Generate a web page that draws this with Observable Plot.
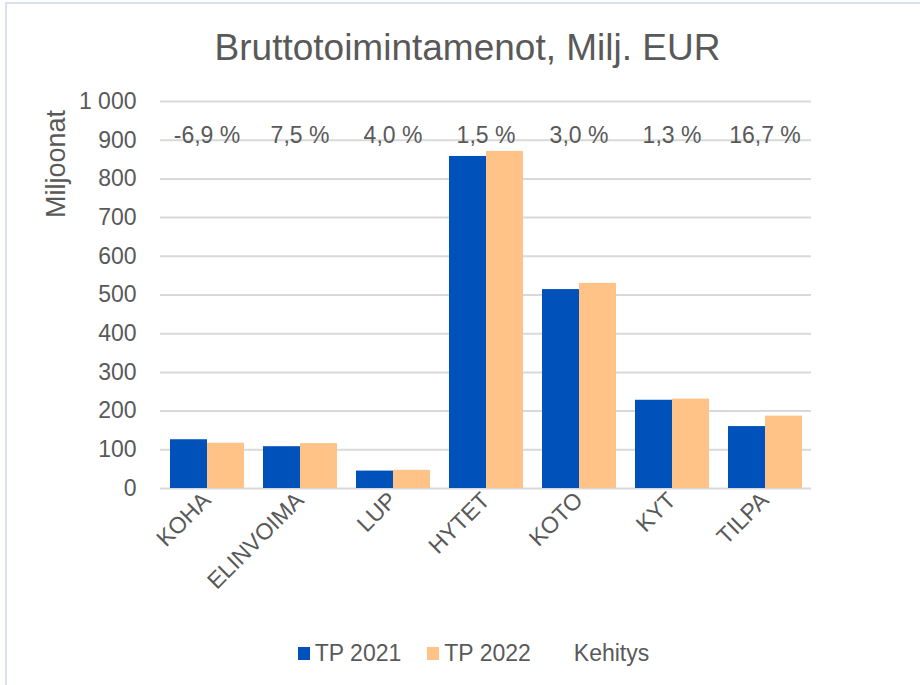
<!DOCTYPE html>
<html>
<head>
<meta charset="utf-8">
<script src="https://cdn.jsdelivr.net/npm/d3@7"></script>
<script src="https://cdn.jsdelivr.net/npm/@observablehq/plot@0.6"></script>
<style>
  html, body { margin: 0; padding: 0; background: #fff; }
  body { width: 920px; height: 685px; position: relative; overflow: hidden;
         font-family: "Liberation Sans", Arial, sans-serif; color: #595959; }
  #frame { position: absolute; left: 5px; top: 2px; width: 1000px; height: 800px;
           border: 2px solid #d9e1ea; box-sizing: border-box; }
  #title { position: absolute; left: 0; width: 935px; top: 27px; text-align: center;
           font-size: 37px; line-height: 41px; white-space: nowrap; }
  #ylabel { position: absolute; left: 56px; top: 164px; font-size: 27px; line-height: 28px;
            white-space: nowrap; transform: translate(-50%, -50%) rotate(-90deg); }
  #chart { position: absolute; left: 0; top: 85px; }
  #legend { position: absolute; left: 0; width: 947px; top: 640px; display: flex;
            justify-content: center; font-size: 23px; line-height: 26px; }
  .item { display: flex; align-items: center; margin: 0 13px; }
  .sw { width: 12px; height: 13px; margin-right: 5px; }
</style>
</head>
<body>
<div id="frame"></div>
<div id="title">Bruttotoimintamenot, Milj. EUR</div>
<div id="ylabel">Miljoonat</div>
<div id="chart"></div>
<div id="legend"></div>
<script>
const categories = ["KOHA", "ELINVOIMA", "LUP", "HYTET", "KOTO", "KYT", "TILPA"];
const series = ["TP 2021", "TP 2022"];
const tp2021 = [126, 108, 45, 858, 514, 228, 160];
const tp2022 = [117, 116, 47, 871, 530, 231, 187];
const kehitys = ["-6,9 %", "7,5 %", "4,0 %", "1,5 %", "3,0 %", "1,3 %", "16,7 %"];
const kehitysLabel = "Kehitys";
const yTicks = [0, 100, 200, 300, 400, 500, 600, 700, 800, 900, 1000];
const colors = ["#0051ba", "#ffc388"];

const rows = categories.flatMap((c, i) => [
  {category: c, series: series[0], value: tp2021[i]},
  {category: c, series: series[1], value: tp2022[i]}
]);
const labels = categories.map((c, i) => ({category: c, text: kehitys[i]}));

const fmt = d3.formatLocale({thousands: " ", grouping: [3], decimal: ",", currency: ["", " €"]}).format(",");

const chart = Plot.plot({
  width: 920,
  height: 530,
  marginLeft: 159,
  marginRight: 108,
  marginTop: 16,
  marginBottom: 127,
  style: {fontFamily: "'Liberation Sans', Arial, sans-serif", fontSize: "23px", color: "#595959", background: "transparent"},
  fx: {domain: categories, padding: 0, label: null, axis: "bottom", tickRotate: -45, tickSize: 0, tickPadding: 8},
  x: {domain: series, axis: null, paddingInner: 0, paddingOuter: 0.25},
  y: {domain: [0, 1000], ticks: yTicks, tickFormat: fmt, tickSize: 0, tickPadding: 24, label: null},
  color: {domain: series, range: colors},
  marks: [
    Plot.ruleY(yTicks, {stroke: "#d9d9d9", strokeWidth: 2}),
    Plot.barY(rows, {fx: "category", x: "series", y: "value", fill: "series"}),
    Plot.text(labels, {fx: "category", text: "text", frameAnchor: "top", lineAnchor: "top", dy: 25, fill: "#595959"})
  ]
});
document.getElementById("chart").appendChild(chart);

const legend = document.getElementById("legend");
const items = [[series[0], colors[0]], [series[1], colors[1]], [kehitysLabel, "transparent"]];
for (const [name, col] of items) {
  const it = document.createElement("div");
  it.className = "item";
  const sw = document.createElement("div");
  sw.className = "sw";
  sw.style.background = col;
  const t = document.createElement("span");
  t.textContent = name;
  it.appendChild(sw);
  it.appendChild(t);
  legend.appendChild(it);
}
</script>
</body>
</html>
